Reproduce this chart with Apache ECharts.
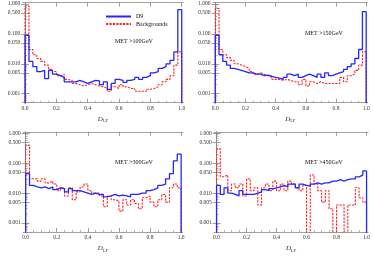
<!DOCTYPE html>
<html><head><meta charset="utf-8">
<script src="https://cdn.jsdelivr.net/npm/echarts@6/dist/echarts.min.js"></script>
<style>html,body{margin:0;padding:0;background:#fff}#c{width:373px;height:258px}</style>
</head><body><div id="c"></div>
<script>
// ---- data ----
const binStarts = [0,0.025,0.05,0.075,0.1,0.125,0.15,0.175,0.2,0.225,0.25,0.275,0.3,0.325,0.35,0.375,0.4,0.425,0.45,0.475,
  0.5,0.525,0.55,0.575,0.6,0.625,0.65,0.675,0.7,0.725,0.75,0.775,0.8,0.825,0.85,0.875,0.9,0.925,0.95,0.975];
const histEnd = 1.0;
const panelLabels = ['MET >100GeV','MET >150GeV','MET >300GeV','MET >450GeV'];
const seriesNames = ['D9','Backgrounds'];
const xTickLabels = [0,0.2,0.4,0.6,0.8,1.0];
const yTickLabels = [0.001,0.005,0.01,0.05,0.1,0.5,1];

const d9_100 = [0.09,0.012,0.008,0.0055,0.006,0.0032,0.006,0.0045,0.004,0.0035,0.0025,0.0025,0.0025,0.0028,0.0025,0.0022,0.0025,0.0028,0.0027,0.002,
  0.0025,0.0014,0.0022,0.003,0.0028,0.0024,0.0028,0.003,0.0035,0.003,0.0035,0.004,0.005,0.0055,0.007,0.008,0.01,0.013,0.025,0.65];
const bkg_100 = [0.85,0.03,0.02,0.015,0.012,0.009,0.0065,0.0055,0.004,0.0045,0.003,0.0028,0.0022,0.002,0.0018,0.002,0.0022,0.002,0.0018,0.0017,
  0.0015,0.0012,0.0017,0.0015,0.002,0.0017,0.0015,0.0015,0.0012,0.0012,0.0012,0.0014,0.0015,0.0017,0.002,0.0025,0.003,0.004,0.009,0.025];
const d9_150 = [0.09,0.02,0.012,0.009,0.007,0.0065,0.006,0.0055,0.005,0.005,0.0045,0.0045,0.004,0.0042,0.0038,0.0035,0.0033,0.003,0.0035,0.0045,
  0.004,0.0045,0.0035,0.004,0.0045,0.004,0.0035,0.0045,0.0035,0.005,0.004,0.0045,0.005,0.0055,0.0065,0.008,0.01,0.015,0.03,0.55];
const bkg_150 = [0.7,0.03,0.02,0.016,0.013,0.01,0.009,0.008,0.007,0.0055,0.0045,0.005,0.0045,0.004,0.0035,0.003,0.003,0.0028,0.003,0.0028,
  0.0025,0.0025,0.002,0.003,0.0018,0.0025,0.0022,0.0025,0.0022,0.0022,0.0022,0.0022,0.0022,0.0035,0.0025,0.004,0.0045,0.006,0.009,0.025];
const d9_300 = [0.045,0.018,0.016,0.015,0.016,0.014,0.016,0.013,0.015,0.014,0.011,0.014,0.012,0.012,0.011,0.01,0.009,0.01,0.009,0.009,
  0.0075,0.008,0.009,0.008,0.0085,0.008,0.0075,0.009,0.009,0.01,0.01,0.012,0.013,0.015,0.018,0.02,0.03,0.045,0.12,0.2];
const bkg_300 = [0.4,0.03,0.03,0.025,0.03,0.022,0.025,0.02,0.012,0.015,0.008,0.015,0.006,0.011,0.016,0.02,0.012,0.01,0.01,0.008,
  0.0035,0.008,0.006,0.0055,0.0025,0.006,0.004,0.006,0.0045,0.003,0.007,0.008,0.005,0.0035,0.006,0.009,0.005,0.015,0.02,0.015];
const d9_450 = [0.018,0.009,0.015,0.01,0.009,0.008,0.012,0.009,0.009,0.009,0.01,0.011,0.013,0.012,0.014,0.015,0.016,0.018,0.016,0.02,
  0.02,0.015,0.02,0.018,0.017,0.02,0.022,0.02,0.022,0.022,0.025,0.025,0.028,0.025,0.028,0.03,0.03,0.035,0.04,0.055];
const bkg_450 = [0.3,0.035,0.04,0.012,0.02,0.015,0.02,0.008,0.03,0.012,0.015,0.004,0.015,0.02,0.012,0.025,0.012,0.02,0.012,0.025,
  0.02,0.015,0.012,0.018,0,0.04,0.02,0.012,0.005,0.012,0.003,0,0.004,0.004,0,0.004,0.004,0.015,0.007,0.005];

const panelD9 = [d9_100, d9_150, d9_300, d9_450];
const panelBkg = [bkg_100, bkg_150, bkg_300, bkg_450];

// ---- layout ----
const grids = [
  {left:22.7, top:2.7, width:160.6, height:100},
  {left:213, top:2.7, width:154.7, height:100},
  {left:23.3, top:132, width:159.4, height:100},
  {left:214.3, top:132, width:154, height:100}
];
const labelPos = [[115,38.5],[305,30],[115,159],[305,159]];
const FLOOR = 1e-6; // empty bins drawn below the axis floor (clipped)
const SERIF = '"Liberation Serif", "DejaVu Serif", serif';

const minorX = [];
for (let i = 1; i < 20; i++) { if (i % 4 !== 0) minorX.push(i * 0.05); }
const minorY = [];
for (let e = -4; e <= 0; e++) { for (let m = 2; m <= 9; m++) { const v = m * Math.pow(10, e); if (m !== 5 && v >= 0.0005 && v <= 1.1) minorY.push(v); } }

function hist(vals) {
  const pts = [[binStarts[0], FLOOR]];
  vals.forEach((v, i) => pts.push([binStarts[i], v > 0 ? v : FLOOR]));
  pts.push([histEnd, FLOOR]);
  return pts;
}

const xAxes = [], yAxes = [], series = [], graphics = [];
const tickColor = '#888';
grids.forEach((g, p) => {
  const xBase = {type:'value', gridIndex:p, min:-0.015, max:1.01, splitLine:{show:false}};
  const yBase = {type:'log', logBase:10, gridIndex:p, min:0.0005, max:1.1, splitLine:{show:false}};
  xAxes.push(Object.assign({}, xBase, {
    position:'bottom',
    axisLine:{show:true, lineStyle:{color:tickColor, width:0.8}},
    axisTick:{show:true, inside:true, length:4, customValues:xTickLabels, lineStyle:{color:tickColor, width:0.8}},
    axisLabel:{customValues:xTickLabels, formatter:v => v.toFixed(1), fontFamily:SERIF, fontSize:5.5, color:'#333', margin:3},
    name:'{d|D}{s|LF}', nameLocation:'middle', nameGap:11,
    nameTextStyle:{rich:{d:{fontFamily:SERIF, fontStyle:'italic', fontSize:7, color:'#333'}, s:{fontFamily:SERIF, fontSize:4.5, color:'#333', padding:[5,0,0,0]}}}
  }));
  xAxes.push(Object.assign({}, xBase, {position:'bottom', axisLine:{show:false},
    axisTick:{show:true, inside:true, length:2, customValues:minorX, lineStyle:{color:tickColor, width:0.6}}, axisLabel:{show:false}}));
  xAxes.push(Object.assign({}, xBase, {position:'top', axisLine:{show:true, lineStyle:{color:tickColor, width:0.8}},
    axisTick:{show:true, inside:true, length:4, customValues:xTickLabels, lineStyle:{color:tickColor, width:0.8}}, axisLabel:{show:false}}));
  yAxes.push(Object.assign({}, yBase, {
    position:'left',
    axisLine:{show:true, lineStyle:{color:tickColor, width:0.8}},
    axisTick:{show:true, inside:true, length:4, customValues:yTickLabels, lineStyle:{color:tickColor, width:0.8}},
    axisLabel:{customValues:yTickLabels, formatter:v => Number(v).toFixed(3), fontFamily:SERIF, fontSize:5.5, color:'#333', margin:2.5}
  }));
  yAxes.push(Object.assign({}, yBase, {position:'left', axisLine:{show:false},
    axisTick:{show:true, inside:true, length:2, customValues:minorY, lineStyle:{color:tickColor, width:0.6}}, axisLabel:{show:false}}));
  yAxes.push(Object.assign({}, yBase, {position:'right', axisLine:{show:true, lineStyle:{color:tickColor, width:0.8}},
    axisTick:{show:true, inside:true, length:4, customValues:yTickLabels, lineStyle:{color:tickColor, width:0.8}}, axisLabel:{show:false}}));

  const xi = p * 3, yi = p * 3;
  series.push({name:seriesNames[0], type:'line', step:'end', xAxisIndex:xi, yAxisIndex:yi, data:hist(panelD9[p]),
    symbol:'none', clip:true, lineStyle:{color:'#2626ff', width:1.3}, itemStyle:{color:'#2626ff'}, z:3});
  series.push({name:seriesNames[1], type:'line', step:'end', xAxisIndex:xi, yAxisIndex:yi, data:hist(panelBkg[p]),
    symbol:'none', clip:true, lineStyle:{color:'#ff2020', width:1.1, type:[2.2,1.2]}, itemStyle:{color:'#ff2020'}, z:2});

  graphics.push({type:'text', left:labelPos[p][0], top:labelPos[p][1],
    style:{text:panelLabels[p], font:'6px ' + SERIF, fill:'#111'}});
});

const chart = echarts.init(document.getElementById('c'), null, {renderer:'canvas'});
chart.setOption({
  animation:false,
  backgroundColor:'#fff',
  grid: grids.map(g => Object.assign({show:false, containLabel:false}, g)),
  xAxis: xAxes,
  yAxis: yAxes,
  legend: {
    left:100, top:8.5, orient:'vertical', itemWidth:25, itemHeight:7, itemGap:1.5,
    textStyle:{fontFamily:SERIF, fontSize:6, color:'#111'},
    itemStyle:{opacity:0},
    data:[{name:seriesNames[0], lineStyle:{width:2}, itemStyle:{opacity:0}}, {name:seriesNames[1], itemStyle:{opacity:0}}],
    selectedMode:false
  },
  graphic: graphics,
  series: series
});
</script>
</body></html>
